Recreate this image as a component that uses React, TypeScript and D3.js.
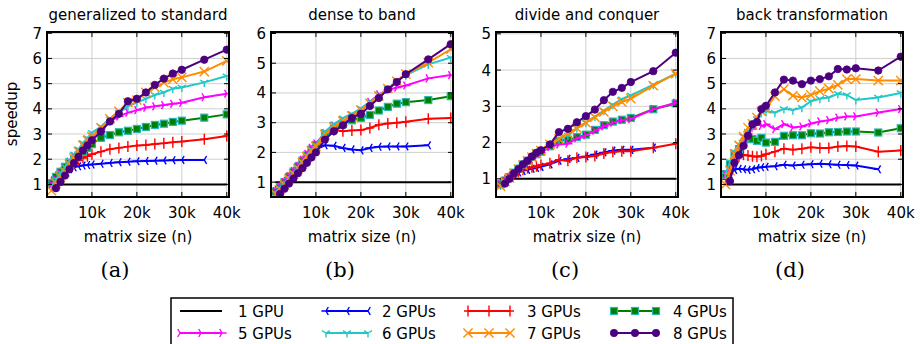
import React from "react";
import * as d3 from "d3";

// matrix sizes (n), in thousands
const SIZES_K = [1, 2, 3, 4, 5, 6, 7, 8, 9, 10, 12, 14, 16, 18, 20, 22, 24, 26, 28, 30, 35, 40];

const TITLES = ["generalized to standard", "dense to band", "divide and conquer", "back transformation"];
const CAPTIONS = ["(a)", "(b)", "(c)", "(d)"];
const Y_MAX = [7.05, 6.05, 5.05, 7.05];
const Y_TICKS = [[1, 2, 3, 4, 5, 6, 7], [1, 2, 3, 4, 5, 6], [1, 2, 3, 4, 5], [1, 2, 3, 4, 5, 6, 7]];
const X_TICKS = [10000, 20000, 30000, 40000];
const X_TICK_LABELS = ["10k", "20k", "30k", "40k"];

const GPU_LABELS = ["1 GPU", "2 GPUs", "3 GPUs", "4 GPUs", "5 GPUs", "6 GPUs", "7 GPUs", "8 GPUs"];
const GPU_COLORS = ["#000000", "#0000ff", "#ff0000", "#008000", "#ff00ff", "#22c7c7", "#ff8c00", "#4b0082"];
const GPU_MARKERS = ["none", "triL", "plus", "square", "triR", "triD", "x", "circle"];

type V = number | null;
const ONE: V[] = SIZES_K.map(() => 1);

// (a) generalized to standard
const genStd2: V[] = [1.1, 1.25, 1.4, 1.5, 1.6, 1.68, 1.72, 1.75, 1.77, 1.79, 1.82, 1.85, 1.88, 1.9, 1.92, 1.93, 1.94, 1.95, 1.96, 1.97, 1.97, null];
const genStd3: V[] = [1.1, 1.3, 1.45, 1.6, 1.75, 1.85, 1.95, 2.05, 2.12, 2.2, 2.3, 2.4, 2.45, 2.5, 2.54, 2.56, 2.6, 2.63, 2.67, 2.7, 2.79, 2.92];
const genStd4: V[] = [1.05, 1.3, 1.5, 1.7, 1.85, 2.0, 2.15, 2.3, 2.45, 2.6, 2.85, 2.96, 3.07, 3.13, 3.2, 3.28, 3.36, 3.41, 3.48, 3.53, 3.65, 3.78];
const genStd5: V[] = [1.0, 1.2, 1.45, 1.65, 1.9, 2.1, 2.3, 2.5, 2.7, 2.9, 3.2, 3.5, 3.7, 3.85, 3.95, 4.05, 4.1, 4.15, 4.2, 4.24, 4.46, 4.6];
const genStd6: V[] = [0.95, 1.2, 1.45, 1.7, 1.95, 2.2, 2.4, 2.65, 2.85, 3.05, 3.3, 3.6, 3.85, 4.1, 4.25, 4.4, 4.55, 4.65, 4.8, 4.85, 5.05, 5.3];
const genStd7: V[] = [0.75, 1.05, 1.3, 1.5, 1.8, 2.05, 2.3, 2.55, 2.75, 2.9, 3.25, 3.6, 3.9, 4.25, 4.35, 4.65, 4.85, 5.04, 5.17, 5.25, 5.48, 5.9];
const genStd8: V[] = [null, 0.85, 1.1, 1.35, 1.6, 1.85, 2.1, 2.35, 2.55, 2.75, 3.1, 3.5, 3.8, 4.3, 4.4, 4.65, 4.95, 5.2, 5.4, 5.55, 5.95, 6.35];

// (b) dense to band
const denseBand2: V[] = [0.75, 0.85, 0.97, 1.12, 1.28, 1.45, 1.62, 1.8, 1.95, 2.1, 2.24, 2.22, 2.15, 2.1, 2.07, 2.15, 2.19, 2.2, 2.2, 2.2, 2.24, null];
const denseBand3: V[] = [0.7, 0.83, 1.0, 1.15, 1.33, 1.5, 1.7, 1.87, 2.05, 2.2, 2.5, 2.75, 2.71, 2.74, 2.75, 2.82, 2.93, 2.97, 3.0, 3.03, 3.13, 3.16];
const denseBand4: V[] = [0.68, 0.82, 1.0, 1.17, 1.35, 1.52, 1.72, 1.9, 2.1, 2.25, 2.6, 2.8, 2.95, 3.08, 3.16, 3.26, 3.41, 3.53, 3.64, 3.69, 3.76, 3.89];
const denseBand5: V[] = [0.7, 0.85, 1.0, 1.2, 1.37, 1.55, 1.75, 1.95, 2.15, 2.3, 2.65, 2.9, 3.05, 3.2, 3.4, 3.7, 3.95, 4.1, 4.18, 4.25, 4.49, 4.6];
const denseBand6: V[] = [0.65, 0.8, 0.97, 1.15, 1.32, 1.5, 1.7, 1.9, 2.1, 2.25, 2.7, 2.95, 3.15, 3.3, 3.48, 3.7, 3.93, 4.15, 4.4, 4.6, 4.96, 5.19];
const denseBand7: V[] = [0.6, 0.75, 0.9, 1.1, 1.27, 1.45, 1.65, 1.85, 2.05, 2.2, 2.6, 2.85, 3.05, 3.22, 3.42, 3.65, 3.9, 4.15, 4.4, 4.63, 5.02, 5.47];
const denseBand8: V[] = [null, 0.6, 0.78, 0.95, 1.12, 1.3, 1.47, 1.65, 1.83, 2.0, 2.43, 2.71, 2.91, 3.16, 3.3, 3.56, 3.83, 4.12, 4.37, 4.63, 5.13, 5.64];

// (c) divide and conquer
const divConq2: V[] = [0.9, 0.97, 1.05, 1.12, 1.18, 1.22, 1.25, 1.28, 1.3, 1.33, 1.4, 1.5, 1.55, 1.58, 1.62, 1.67, 1.73, 1.78, 1.8, 1.8, 1.86, null];
const divConq3: V[] = [0.88, 0.97, 1.05, 1.12, 1.18, 1.25, 1.3, 1.32, 1.35, 1.38, 1.43, 1.53, 1.5, 1.58, 1.6, 1.63, 1.7, 1.74, 1.76, 1.76, 1.86, 1.97];
const divConq4: V[] = [0.85, 0.95, 1.05, 1.17, 1.28, 1.4, 1.5, 1.6, 1.68, 1.75, 1.9, 2.05, 2.08, 2.15, 2.22, 2.35, 2.48, 2.58, 2.63, 2.68, 2.92, 3.08];
const divConq5: V[] = [0.85, 0.95, 1.05, 1.15, 1.25, 1.37, 1.48, 1.58, 1.65, 1.72, 1.88, 1.95, 1.97, 2.12, 2.2, 2.33, 2.45, 2.55, 2.62, 2.65, 2.92, 3.1];
const divConq6: V[] = [0.82, 0.93, 1.05, 1.17, 1.28, 1.4, 1.52, 1.62, 1.72, 1.8, 1.95, 2.1, 2.2, 2.4, 2.55, 2.72, 2.88, 3.05, 3.2, 3.3, 3.6, 3.9];
const divConq7: V[] = [0.8, 0.92, 1.03, 1.15, 1.27, 1.38, 1.5, 1.6, 1.7, 1.78, 1.95, 2.1, 2.25, 2.4, 2.55, 2.7, 2.85, 3.0, 3.12, 3.21, 3.57, 3.9];
const divConq8: V[] = [null, 0.87, 1.0, 1.15, 1.27, 1.4, 1.5, 1.62, 1.72, 1.79, 1.95, 2.29, 2.38, 2.56, 2.73, 2.91, 3.17, 3.4, 3.51, 3.67, 3.97, 4.48];

// (d) back transformation
const backTr2: V[] = [1.2, 1.4, 1.58, 1.62, 1.6, 1.58, 1.6, 1.65, 1.68, 1.7, 1.72, 1.78, 1.75, 1.78, 1.8, 1.82, 1.8, 1.78, 1.77, 1.75, 1.6, null];
const backTr3: V[] = [1.2, 1.5, 1.9, 2.1, 2.18, 2.15, 2.12, 2.1, 2.13, 2.2, 2.3, 2.42, 2.38, 2.42, 2.47, 2.45, 2.45, 2.5, 2.52, 2.5, 2.3, 2.35];
const backTr4: V[] = [1.4, 1.8, 2.2, 2.4, 2.6, 2.8, 2.8, 2.73, 2.85, 2.66, 2.69, 2.93, 2.95, 2.95, 3.03, 3.02, 3.07, 3.08, 3.1, 3.1, 3.06, 3.23];
const backTr5: V[] = [1.4, 1.7, 2.1, 2.4, 2.7, 3.0, 3.2, 3.4, 3.32, 3.39, 3.19, 3.39, 3.26, 3.3, 3.42, 3.5, 3.55, 3.65, 3.7, 3.7, 3.85, 3.99];
const backTr6: V[] = [1.4, 1.9, 2.3, 2.6, 2.9, 3.1, 3.35, 3.6, 3.85, 3.9, 3.85, 4.0, 3.95, 4.05, 4.3, 4.4, 4.45, 4.6, 4.55, 4.35, 4.45, 4.63];
const backTr7: V[] = [1.0, 1.55, 2.2, 2.55, 2.9, 3.25, 3.4, 3.65, 3.9, 4.0, 4.5, 4.78, 4.52, 4.45, 4.55, 4.7, 4.8, 4.95, 5.18, 5.18, 5.12, 5.12];
const backTr8: V[] = [null, 1.13, 1.86, 2.16, 2.53, 2.93, 3.39, 3.48, 3.99, 4.12, 4.65, 5.16, 5.12, 4.98, 5.12, 5.18, 5.29, 5.58, 5.56, 5.61, 5.52, 6.07];

const PANEL_SERIES: V[][][] = [
  [ONE, genStd2, genStd3, genStd4, genStd5, genStd6, genStd7, genStd8],
  [ONE, denseBand2, denseBand3, denseBand4, denseBand5, denseBand6, denseBand7, denseBand8],
  [ONE, divConq2, divConq3, divConq4, divConq5, divConq6, divConq7, divConq8],
  [ONE, backTr2, backTr3, backTr4, backTr5, backTr6, backTr7, backTr8],
];

// layout
const W = 920;
const H = 344;
const PANEL_LEFTS = [47, 271, 496, 721];
const PW = 182;
const TOP = 32;
const BOTTOM = 197;
const FONT = "DejaVu Sans";

function Marker({ type, color, x, y }: { type: string; color: string; x: number; y: number }) {
  const r = 4.6;
  const t = `translate(${x},${y})`;
  if (type === "none") return null;
  if (type === "circle") return <circle cx={x} cy={y} r={3.7} fill={color} stroke={color} strokeWidth={0.8} />;
  if (type === "square")
    return <rect x={x - 3.5} y={y - 3.5} width={7} height={7} fill={color} stroke="#2ab7b0" strokeWidth={1.2} />;
  let d = "";
  if (type === "triL") d = `M0,0L${-r},0M0,0L${r * 0.5},${-r * 0.866}M0,0L${r * 0.5},${r * 0.866}`;
  if (type === "triR") d = `M0,0L${r},0M0,0L${-r * 0.5},${-r * 0.866}M0,0L${-r * 0.5},${r * 0.866}`;
  if (type === "triD") d = `M0,0L0,${r}M0,0L${-r * 0.866},${-r * 0.5}M0,0L${r * 0.866},${-r * 0.5}`;
  if (type === "plus") d = `M${-4},0H4M0,${-5.5}V5.5`;
  if (type === "x") d = `M${-r},${-r}L${r},${r}M${-r},${r}L${r},${-r}`;
  return <path d={d} transform={t} fill="none" stroke={color} strokeWidth={1.4} />;
}

function Panel({ idx }: { idx: number }) {
  const left = PANEL_LEFTS[idx];
  const x = d3.scaleLinear().domain([0, 40500]).range([left, left + PW]);
  const y = d3.scaleLinear().domain([0.5, Y_MAX[idx]]).range([BOTTOM, TOP]);
  const series = PANEL_SERIES[idx];
  const clipId = `clip${idx}`;
  const cx = left + PW / 2;
  return (
    <g>
      <defs>
        <clipPath id={clipId}>
          <rect x={left} y={TOP} width={PW} height={BOTTOM - TOP} />
        </clipPath>
      </defs>
      {/* grid */}
      {X_TICKS.map((t) => (
        <line key={"gx" + t} x1={x(t)} x2={x(t)} y1={TOP} y2={BOTTOM} stroke="#cfcfcf" strokeWidth={1} />
      ))}
      {Y_TICKS[idx].map((t) => (
        <line key={"gy" + t} x1={left} x2={left + PW} y1={y(t)} y2={y(t)} stroke="#cfcfcf" strokeWidth={1} />
      ))}
      {/* data */}
      <g clipPath={`url(#${clipId})`}>
        {series.map((vals, s) => {
          const pts = SIZES_K.map((k, i) => ({ k, v: vals[i] }));
          const line = d3
            .line<{ k: number; v: V }>()
            .defined((d) => d.v != null)
            .x((d) => x(d.k * 1000))
            .y((d) => y(d.v as number));
          return (
            <g key={s}>
              <path d={line(pts) || ""} fill="none" stroke={GPU_COLORS[s]} strokeWidth={2} />
              {pts
                .filter((p) => p.v != null)
                .map((p, i) => (
                  <Marker key={i} type={GPU_MARKERS[s]} color={GPU_COLORS[s]} x={x(p.k * 1000)} y={y(p.v as number)} />
                ))}
            </g>
          );
        })}
      </g>
      {/* ticks */}
      {X_TICKS.map((t) => (
        <g key={"tx" + t}>
          <line x1={x(t)} x2={x(t)} y1={BOTTOM} y2={BOTTOM - 5} stroke="#000" strokeWidth={1} />
          <line x1={x(t)} x2={x(t)} y1={TOP} y2={TOP + 5} stroke="#000" strokeWidth={1} />
        </g>
      ))}
      {Y_TICKS[idx].map((t) => (
        <g key={"ty" + t}>
          <line x1={left} x2={left + 5} y1={y(t)} y2={y(t)} stroke="#000" strokeWidth={1} />
          <line x1={left + PW} x2={left + PW - 5} y1={y(t)} y2={y(t)} stroke="#000" strokeWidth={1} />
        </g>
      ))}
      <rect x={left} y={TOP} width={PW} height={BOTTOM - TOP} fill="none" stroke="#000" strokeWidth={2} />
      {/* tick labels */}
      {X_TICKS.map((t, i) => (
        <text key={"lx" + t} x={x(t)} y={218} textAnchor="middle" fontFamily={FONT} fontSize={15} fill="#000">
          {X_TICK_LABELS[i]}
        </text>
      ))}
      {Y_TICKS[idx].map((t) => (
        <text key={"ly" + t} x={left - 5} y={y(t) + 5.5} textAnchor="end" fontFamily={FONT} fontSize={15} fill="#000">
          {t}
        </text>
      ))}
      <text x={cx} y={20} textAnchor="middle" fontFamily={FONT} fontSize={15} fill="#000">
        {TITLES[idx]}
      </text>
      <text x={cx} y={242} textAnchor="middle" fontFamily={FONT} fontSize={15} fill="#000">
        matrix size (n)
      </text>
      <text x={115 + 225 * idx} y={277} textAnchor="middle" fontFamily="DejaVu Serif" fontSize={21} fill="#000">
        {CAPTIONS[idx]}
      </text>
    </g>
  );
}

const LEG_SAMPLE_X = [180, 326, 468, 614];
const LEG_TEXT_X = [238, 382, 527, 673];
const LEG_ROW_Y = [311, 333];

function Legend() {
  return (
    <g>
      <rect x={171} y={298} width={562} height={52} fill="#fff" stroke="#000" strokeWidth={1.5} />
      {GPU_LABELS.map((lab, i) => {
        const col = i % 4;
        const row = Math.floor(i / 4);
        const sx = LEG_SAMPLE_X[col];
        const sy = LEG_ROW_Y[row];
        const len = 42;
        return (
          <g key={lab}>
            <line x1={sx} x2={sx + len} y1={sy} y2={sy} stroke={GPU_COLORS[i]} strokeWidth={2} />
            {[0, 0.5, 1].map((f) => (
              <Marker key={f} type={GPU_MARKERS[i]} color={GPU_COLORS[i]} x={sx + len * f} y={sy} />
            ))}
            <text x={LEG_TEXT_X[col]} y={sy + 5.5} fontFamily={FONT} fontSize={15} fill="#000">
              {lab}
            </text>
          </g>
        );
      })}
    </g>
  );
}

export default function App() {
  return (
    <svg width={W} height={H} style={{ position: "absolute", left: 0, top: 0, background: "#fff" }}>
      <rect x={0} y={0} width={W} height={H} fill="#fff" />
      {[0, 1, 2, 3].map((i) => (
        <Panel key={i} idx={i} />
      ))}
      <text
        transform={`translate(17,114) rotate(-90)`}
        textAnchor="middle"
        fontFamily={FONT}
        fontSize={15}
        fill="#000"
      >
        speedup
      </text>
      <Legend />
    </svg>
  );
}
